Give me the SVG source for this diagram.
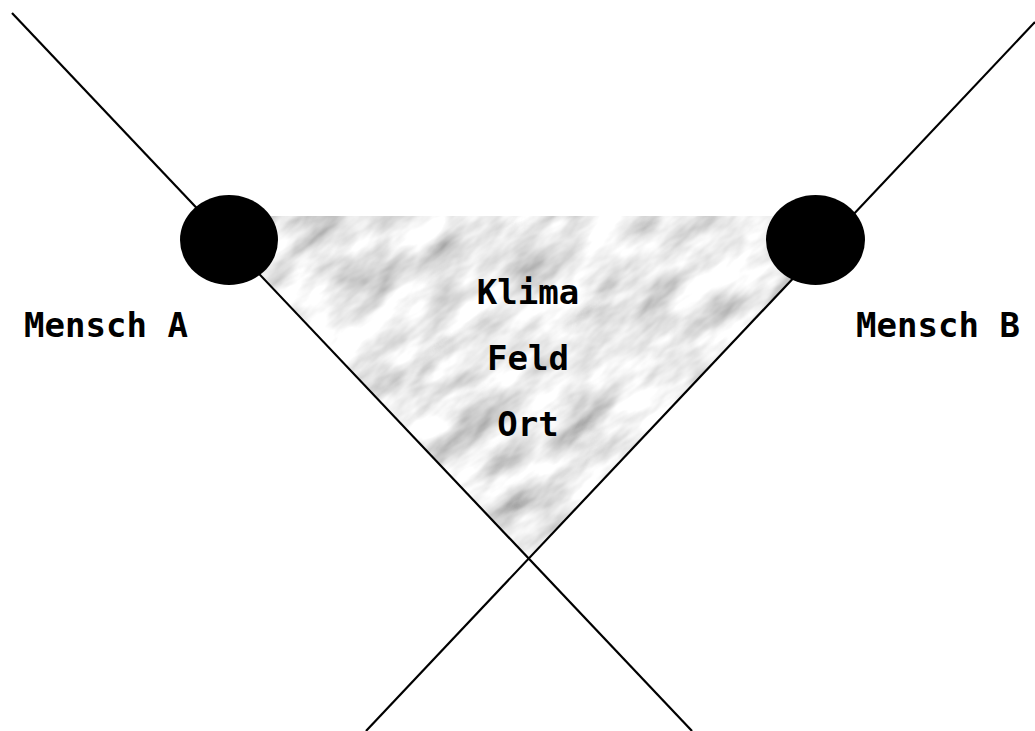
<svg xmlns="http://www.w3.org/2000/svg" width="1035" height="731" viewBox="0 0 1035 731">
<style>
.ln{stroke:#000;stroke-width:2.2;fill:none}
.dot{fill:#000}
.lbl{font-family:"DejaVu Sans Mono","Liberation Mono",monospace;font-weight:bold;font-size:34px;fill:#000;text-anchor:middle}
</style>
<defs>
<clipPath id="tri"><polygon points="204,216 852,216 528,559"/></clipPath>
<filter id="marble" x="0" y="0" width="1" height="1" filterUnits="objectBoundingBox">
<feTurbulence type="fractalNoise" baseFrequency="0.014 0.035" numOctaves="4" seed="7" result="n"/>
<feColorMatrix in="n" type="matrix" values="1.2 0 0 0 0.23  1.2 0 0 0 0.23  1.2 0 0 0 0.23  0 0 0 0 1"/>
</filter>
</defs>
<rect width="1035" height="731" fill="#fff"/>
<g id="field" clip-path="url(#tri)">
<rect x="-200" y="-300" width="1400" height="1400" filter="url(#marble)" transform="rotate(-38 528 380)"/>
</g>
<g id="connectors">
<line class="ln" x1="12" y1="13" x2="692" y2="731"/>
<line class="ln" x1="1035" y1="22" x2="366" y2="731"/>
</g>
<g id="menschA">
<ellipse class="dot" cx="229" cy="240" rx="49" ry="45"/>
<text class="lbl" x="106" y="337">Mensch A</text>
</g>
<g id="menschB">
<ellipse class="dot" cx="815.5" cy="240" rx="49.5" ry="45"/>
<text class="lbl" x="938" y="337">Mensch B</text>
</g>
<g id="labels">
<text class="lbl" x="528" y="304">Klima</text>
<text class="lbl" x="528" y="370">Feld</text>
<text class="lbl" x="528" y="436">Ort</text>
</g>
</svg>
